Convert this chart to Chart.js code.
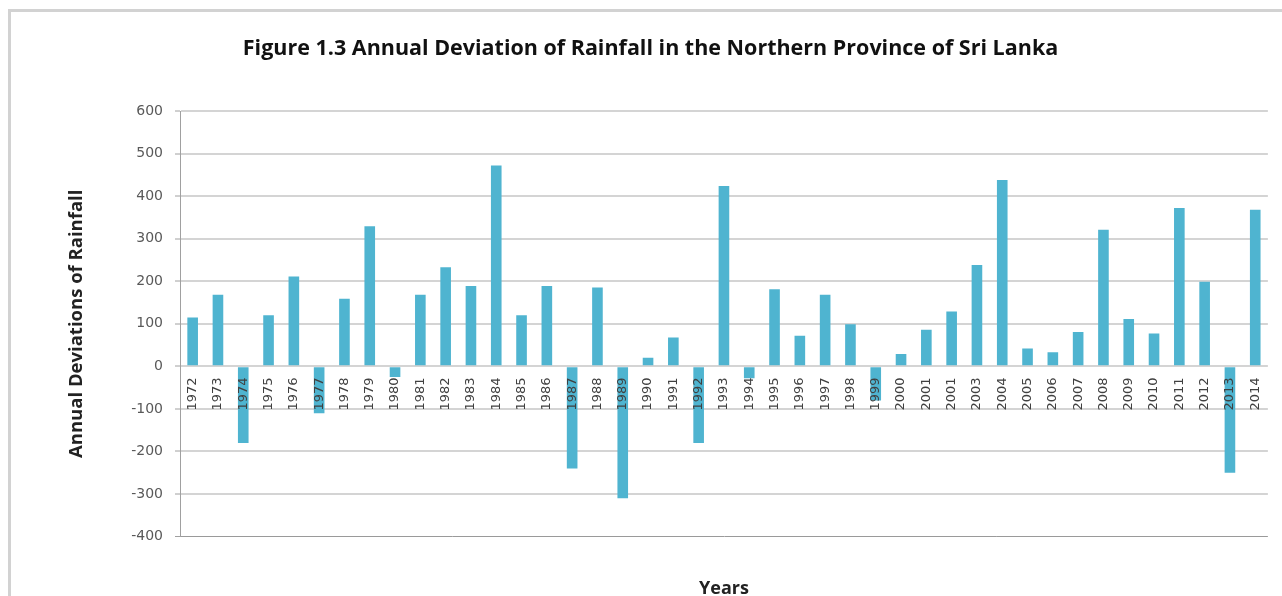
<!DOCTYPE html>
<html>
<head>
<meta charset="utf-8">
<title>Annual Deviation of Rainfall – Northern Province of Sri Lanka</title>
<script src="https://cdn.jsdelivr.net/npm/chart.js@4/dist/chart.umd.min.js"></script>
<style>
  html, body { margin: 0; padding: 0; background: #ffffff; overflow: hidden; }
  #wrap { position: relative; width: 1282px; height: 596px; overflow: hidden; }
  .edge { position: absolute; background: #d2d2d2; }
  #edgeTop { left: 8px; top: 9px; width: 1274px; height: 3px; }
  #edgeLeft { left: 8px; top: 9px; width: 3px; height: 587px; }
  canvas { position: absolute; left: 0; top: 0; }
</style>
</head>
<body>
<div id="wrap">
  <div class="edge" id="edgeTop"></div>
  <div class="edge" id="edgeLeft"></div>
  <canvas id="chart" width="1282" height="596"></canvas>
</div>
<script>
// Year labels (the source lists 2001 twice, followed by 2003)
const years = [
  '1972','1973','1974','1975','1976','1977','1978','1979','1980','1981',
  '1982','1983','1984','1985','1986','1987','1988','1989','1990','1991',
  '1992','1993','1994','1995','1996','1997','1998','1999','2000','2001',
  '2001','2003','2004','2005','2006','2007','2008','2009','2010','2011',
  '2012','2013','2014'
];

// Annual deviation of rainfall (mm) for each year above
const deviations = [
  115, 168, -180, 120, 211, -110, 159, 329, -25, 168,
  233, 189, 472, 120, 189, -240, 185, -310, 20, 68,
  -180, 424, -28, 181, 72, 168, 99, -80, 29, 86,
  129, 238, 438, 42, 33, 81, 321, 111, 77, 372,
  199, -250, 368
];

// Value axis range
const yMin = -400;
const yMax = 600;
const yStep = 100;

const titleText = 'Figure 1.3 Annual Deviation of Rainfall in the Northern Province of Sri Lanka';
const yTitleText = 'Annual Deviations of Rainfall';
const xTitleText = 'Years';

new Chart(document.getElementById('chart'), {
  type: 'bar',
  data: {
    labels: years,
    datasets: [{
      label: 'Deviation',
      data: deviations,
      backgroundColor: '#4fb4d0',
      borderWidth: 0,
      categoryPercentage: 1.0,
      barPercentage: 0.42
    }]
  },
  options: {
    responsive: false,
    animation: false,
    devicePixelRatio: 1,
    layout: { padding: { left: 30, right: 11, top: 0, bottom: 0 } },
    plugins: {
      legend: { display: false },
      tooltip: { enabled: false },
      title: {
        display: true,
        text: titleText,
        color: '#111111',
        font: { family: '"Open Sans", sans-serif', size: 21.5, weight: 'bold', lineHeight: 1.2 },
        padding: { top: 36, bottom: 49.2 }
      }
    },
    scales: {
      x: {
        type: 'category',
        position: { y: 0 },
        grid: { display: false, drawTicks: false },
        border: { display: false },
        ticks: {
          z: 1,
          autoSkip: false,
          minRotation: 90,
          maxRotation: 90,
          padding: 11,
          color: '#404040',
          font: { family: '"DejaVu Sans", sans-serif', size: 13 }
        }
      },
      xTitle: {
        type: 'category',
        position: 'bottom',
        labels: years,
        grid: { display: false, drawTicks: false },
        border: { display: false },
        ticks: { display: false },
        title: {
          display: true,
          text: xTitleText,
          color: '#222222',
          font: { family: '"Open Sans", sans-serif', size: 18, weight: 'bold', lineHeight: 0.8 },
          padding: { top: 45, bottom: 0 }
        }
      },
      y: {
        type: 'linear',
        min: yMin,
        max: yMax,
        afterFit: (scale) => { scale.width = 150; },
        grid: {
          color: (ctx) => ctx.tick && ctx.tick.value === yMin ? '#9a9a9a' : '#d4d4d4',
          lineWidth: (ctx) => ctx.tick && ctx.tick.value === yMin ? 1 : 2,
          drawTicks: true,
          tickLength: 5,
          tickColor: '#a0a0a0',
          tickWidth: 1
        },
        border: { display: true, color: '#a0a0a0', width: 1 },
        ticks: {
          stepSize: yStep,
          padding: 12,
          color: '#595959',
          font: { family: '"DejaVu Sans", sans-serif', size: 14 }
        },
        title: {
          display: true,
          text: yTitleText,
          color: '#222222',
          font: { family: '"Open Sans", sans-serif', size: 18.5, weight: 'bold', lineHeight: 1.2 },
          padding: { top: 35.9, bottom: 0 }
        }
      }
    }
  }
});
</script>
</body>
</html>
